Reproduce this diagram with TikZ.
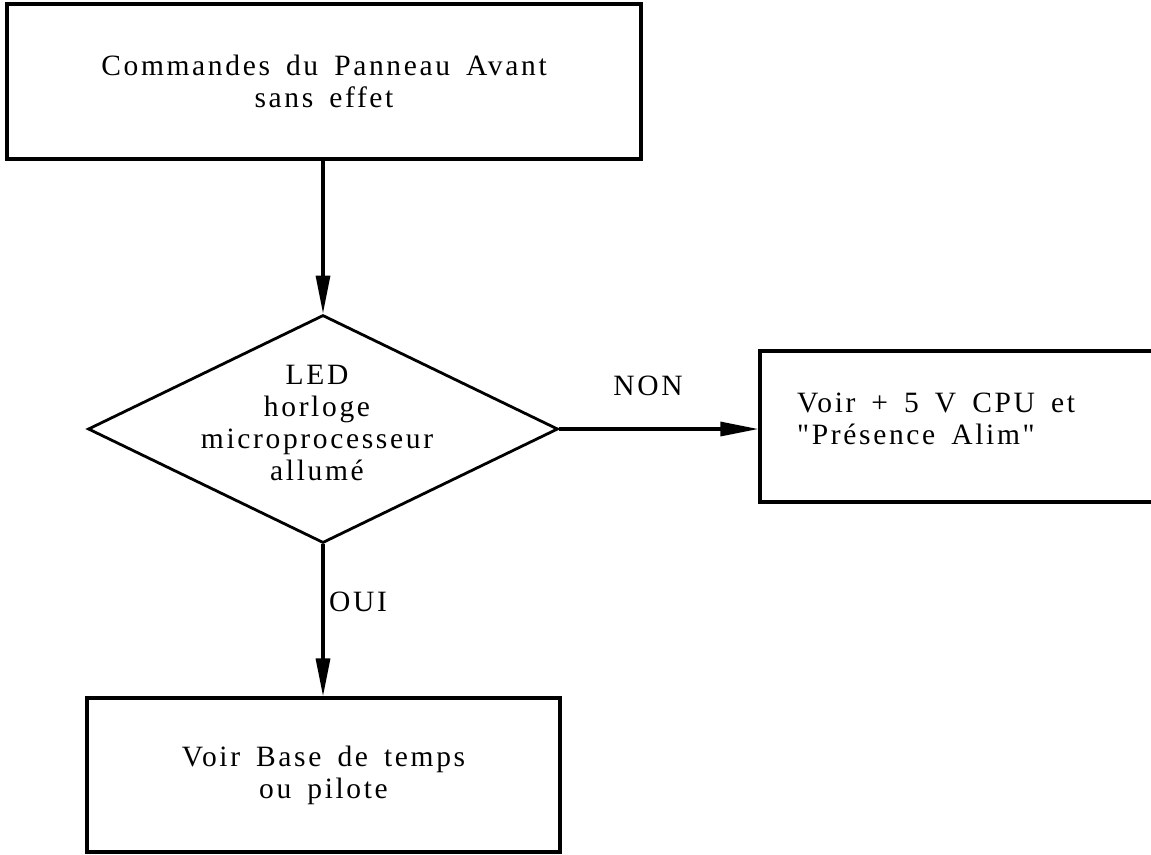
\documentclass[tikz,border=0pt]{standalone}
\usepackage{fontspec}
\setmainfont[LetterSpace=9, WordSpace=1.6, Ligatures=TeXOff]{Liberation Serif}
\usetikzlibrary{arrows.meta,shapes.geometric}

\begin{document}
\begin{tikzpicture}[x=1pt,y=1pt,
  every node/.style={font=\fontsize{29.5}{32}\selectfont},
  frame/.style={draw, line width=3.2pt, rectangle, inner sep=0pt, align=center},
  decision/.style={draw, line width=2.8pt, diamond, inner sep=0pt, aspect=2.06},
  flow/.style={line width=3.2pt, -{Triangle[length=38pt,width=14pt]}},
  tag/.style={inner sep=0pt}]
  \useasboundingbox (0,0) rectangle (1151,-854);
  \clip (0,0) rectangle (1151,-854);

  % start box
  \node[frame, minimum width=634pt, minimum height=155pt] (start) at (324,-81.5)
    {\fontsize{29.5}{30}\selectfont Commandes du Panneau Avant\\sans effet};

  % decision
  \node[decision, minimum width=470pt, minimum height=228pt] (dec) at (323,-429) {};
  \node[tag, align=center] (dectext) at (317,-423)
    {LED\\horloge\\microprocesseur\\allumé};

  % NON branch: box runs off the right edge
  \node[frame, minimum width=410pt, minimum height=151pt] (alim) at (965,-426.5) {};
  \node[tag, align=left, anchor=west] (alimtext) at (797,-419)
    {Voir + 5 V CPU et\\"Présence Alim"};

  % OUI branch
  \node[frame, minimum width=473pt, minimum height=154pt] (base) at (323.5,-775)
    {\fontsize{29.5}{31}\selectfont Voir Base de temps\\ou pilote};

  % connectors
  \draw[flow] (start.south -| dec.north) -- (dec.north);
  \draw[flow] (dec.east) -- (dec.east -| alim.west);
  \draw[flow] (dec.south) -- (dec.south |- base.north);

  % branch labels
  \node[tag] (non) at (648,-386) {NON};
  \node[tag] (oui) at (358,-602) {OUI};
\end{tikzpicture}
\end{document}
